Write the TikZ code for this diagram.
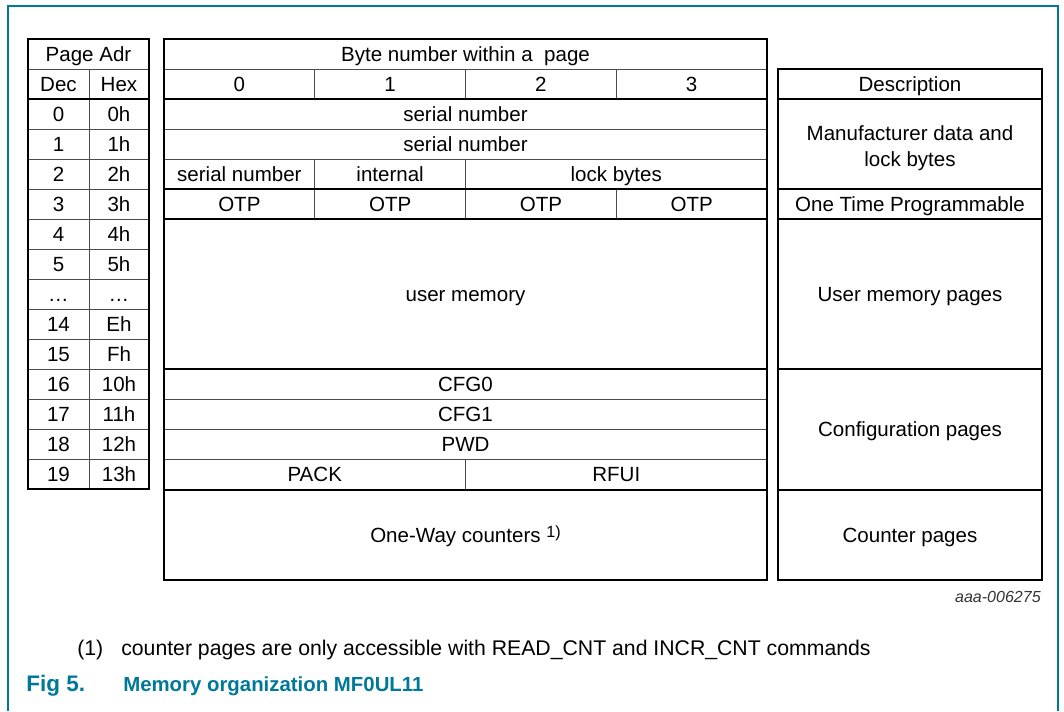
\documentclass[tikz,border=0pt]{standalone}
\usepackage{fontspec}
\setmainfont{Liberation Sans}
\usepackage{tikz}
\usetikzlibrary{positioning}
\definecolor{nxpteal}{RGB}{0,120,152}

\begin{document}
\begin{tikzpicture}[x=0.025cm, y=-0.025cm, font=\fontsize{14.6}{18.5}\selectfont,
  cell/.style={draw=black!70, line width=0.6pt, rectangle, inner sep=0pt, outer sep=0pt,
    anchor=north west, align=center, text height=12.5pt, text depth=2pt},
  sz/.style 2 args={minimum width=#1*0.025cm, minimum height=#2*0.025cm},
  thickline/.style={line width=1.3pt},
  frame/.style={draw=nxpteal, line width=1.3pt},
  caption/.style={anchor=base west, inner sep=0pt, text=nxpteal}]

\useasboundingbox (0,0) rectangle (1064,711);

% figure frame
\coordinate (fbl) at (8,711);
\coordinate (ftl) at (8,6);
\coordinate (ftr) at (1058,6);
\coordinate (fbr) at (1058,711);
\draw[frame] (fbl) -- (ftl) -- (ftr) -- (fbr);

% page address
\node[cell, sz={121}{30}] (adr) at (28,39) {Page Adr};
\node[cell, sz={61}{30}] (dec) at (28,69) {Dec};
\node[cell, sz={60}{30}, right=0pt of dec] (hex) {Hex};
\foreach \d/\h [count=\i from 0] in {0/0h,1/1h,2/2h,3/3h,4/4h,5/5h,\ldots/\ldots,
    14/Eh,15/Fh,16/10h,17/11h,18/12h,19/13h}{
  \node[cell, sz={61}{30}] (d\i) at (28,99+30*\i) {\d};
  \node[cell, sz={60}{30}] (h\i) at (89,99+30*\i) {\h};
}

% byte layout
\node[cell, sz={603}{30}] (bytehdr) at (164,39) {Byte number within a\ \ page};
\foreach \b in {0,...,3}
  \node[cell, sz={150.75}{30}] (b\b) at (164+150.75*\b,69) {\b};
\node[cell, sz={603}{30}] (sn0) at (164,99) {serial number};
\node[cell, sz={603}{30}] (sn1) at (164,129) {serial number};
\node[cell, sz={150.75}{30}] (sn2) at (164,159) {serial number};
\node[cell, sz={150.75}{30}, right=0pt of sn2] (intl) {internal};
\node[cell, sz={301.5}{30}, right=0pt of intl] (lock) {lock bytes};
\foreach \b in {0,...,3}
  \node[cell, sz={150.75}{30}] (otp\b) at (164+150.75*\b,189) {OTP};
\node[cell, sz={603}{150}] (user) at (164,219) {user memory};
\node[cell, sz={603}{30}] (cfg0) at (164,369) {CFG0};
\node[cell, sz={603}{30}, below=0pt of cfg0] (cfg1) {CFG1};
\node[cell, sz={603}{30}, below=0pt of cfg1] (pwd) {PWD};
\node[cell, sz={301.5}{31}] (pack) at (164,459) {PACK};
\node[cell, sz={301.5}{31}, right=0pt of pack] (rfui) {RFUI};
\node[cell, sz={603}{90}] (cnt) at (164,490)
  {One-Way counters \raisebox{0.45ex}{\fontsize{11.5}{12}\selectfont 1)}};

% description
\node[cell, sz={264}{30}] (desc) at (778,69) {Description};
\node[cell, sz={264}{90}, text height=, text depth=] (mfgd) at (778,99)
  {\rule{0pt}{17pt}Manufacturer data and\\lock bytes};
\node[cell, sz={264}{30}] (otpd) at (778,189) {One Time Programmable};
\node[cell, sz={264}{150}] (userd) at (778,219) {User memory pages};
\node[cell, sz={264}{121}] (cfgd) at (778,369) {Configuration pages};
\node[cell, sz={264}{90}] (cntd) at (778,490) {Counter pages};

% heavy rules
\draw[thickline] (adr.north west) rectangle (h12.south east);
\draw[thickline] (d0.north west) -- (h0.north east);
\draw[thickline] (bytehdr.north west) rectangle (cnt.south east);
\foreach \n in {sn0,otp0,user,cfg0,cnt}
  \draw[thickline] (\n.north west) -- (\n.north west -| bytehdr.east);
\draw[thickline] (desc.north west) rectangle (cntd.south east);
\foreach \n in {mfgd,otpd,userd,cfgd,cntd}
  \draw[thickline] (\n.north west) -- (\n.north east);

% notes and caption
\node[anchor=base east, inner sep=0pt, text=black!80,
  font=\fontsize{11.4}{13}\selectfont\itshape] (tag) at (1041,602) {aaa-006275};
\node[anchor=base west, inner sep=0pt, font=\fontsize{15.1}{18}\selectfont] (fnum) at (77,655) {(1)};
\node[anchor=base west, inner sep=0pt, font=\fontsize{15.1}{18}\selectfont] (fnote) at (121,655)
  {counter pages are only accessible with READ\_CNT and INCR\_CNT commands};
\node[caption, font=\fontsize{16}{18}\selectfont\bfseries] (fignum) at (26,691) {Fig 5.};
\node[caption, font=\fontsize{14.5}{18}\selectfont\bfseries] (figtitle) at (123,691)
  {Memory organization MF0UL11};

\end{tikzpicture}
\end{document}
